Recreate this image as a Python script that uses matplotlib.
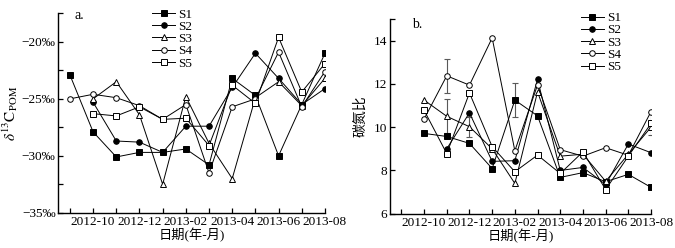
import matplotlib
matplotlib.use("Agg")
import matplotlib.pyplot as plt
import numpy as np

plt.rcParams['font.family'] = ['Liberation Serif', 'Noto Sans CJK SC']
plt.rcParams['mathtext.fontset'] = 'stix'
plt.rcParams['axes.unicode_minus'] = True

nan = np.nan
months = ['2012-09', '2012-10', '2012-11', '2012-12', '2013-01', '2013-02',
          '2013-03', '2013-04', '2013-05', '2013-06', '2013-07', '2013-08']
series = ['S1', 'S2', 'S3', 'S4', 'S5']

# panel a: delta13C of POM (permil)
d13c_s1 = [-22.9, -27.9, -30.1, -29.7, -29.7, -29.4, -30.8, -23.2, -24.7, -30.0, -25.5, -21.0]
d13c_s2 = [nan, -25.3, -28.7, -28.8, -29.7, -27.4, -27.4, -24.0, -21.0, -23.2, -25.5, -24.1]
d13c_s3 = [nan, -25.0, -23.5, -26.4, -32.5, -24.8, -28.9, -32.0, -24.9, -23.5, -25.6, -23.2]
d13c_s4 = [-25.0, -24.6, -24.9, -25.6, -26.8, -25.5, -31.5, -25.7, -25.0, -20.9, -25.7, -22.6]
d13c_s5 = [nan, -26.3, -26.5, -25.7, -26.8, -26.7, -29.1, -23.8, -25.4, -19.6, -24.4, -21.9]

# panel b: C/N ratio
cn_s1 = [nan, 9.71, 9.57, 9.25, 8.09, 11.25, 10.52, 7.68, 7.90, 7.48, 7.82, 7.22]
cn_s2 = [nan, nan, 9.00, 10.66, 8.42, 8.45, 12.20, 8.00, 8.14, 7.35, 9.22, 8.82]
cn_s3 = [nan, 11.25, 10.50, 10.02, 9.00, 7.40, 11.63, 8.66, 8.75, 7.50, 8.75, 10.00]
cn_s4 = [nan, 10.37, 12.37, 11.94, 14.12, 8.91, 11.95, 8.96, 8.66, 9.05, 8.70, 10.72]
cn_s5 = [nan, 10.78, 8.78, 11.58, 9.10, 7.94, 8.71, 7.86, 8.86, 7.12, 8.66, 10.17]

# error bars (only where drawn)
cn_err_s1 = [nan, nan, nan, nan, nan, 0.80, nan, nan, nan, nan, nan, nan]
cn_err_s3 = [nan, nan, 0.78, 0.46, nan, nan, nan, nan, nan, nan, nan, nan]
cn_err_s4 = [nan, nan, 0.78, nan, nan, nan, nan, nan, nan, nan, nan, nan]
cn_err_s5 = [nan, nan, nan, nan, nan, nan, nan, nan, nan, nan, nan, 0.55]

styles = {
    'S1': dict(marker='s', mfc='black'),
    'S2': dict(marker='o', mfc='black'),
    'S3': dict(marker='^', mfc='white'),
    'S4': dict(marker='o', mfc='white'),
    'S5': dict(marker='s', mfc='white'),
}

x = np.arange(len(months))
tick_labels = [m if i % 2 == 1 else '' for i, m in enumerate(months)]

fig = plt.figure(figsize=(6.75, 2.48), dpi=100)
ax1 = fig.add_axes([0.0864, 0.142, 0.395, 0.804])
ax2 = fig.add_axes([0.5778, 0.138, 0.3867, 0.786])


def style_axis(ax):
    for s in ['top', 'right']:
        ax.spines[s].set_visible(False)
    for s in ['left', 'bottom']:
        ax.spines[s].set_linewidth(1.0)
    ax.set_xlim(-0.5, 11)
    ax.set_xticks(x)
    ax.set_xticklabels(tick_labels)
    ax.tick_params(direction='in', length=3.5, width=0.9, labelsize=9.5, pad=2)
    ax.tick_params(which='minor', direction='in', length=3.5, width=0.9)
    ax.set_xlabel('日期(年-月)', fontsize=9.5, labelpad=0)


def add_legend(ax, x0, y0):
    ax.legend(loc='upper left', bbox_to_anchor=(x0, y0), frameon=False,
              fontsize=9.5, handlelength=1.8, handletextpad=0.2,
              labelspacing=0.0, borderpad=0, borderaxespad=0)


for name, vals in zip(series, [d13c_s1, d13c_s2, d13c_s3, d13c_s4, d13c_s5]):
    st = styles[name]
    ax1.plot(x, vals, color='black', lw=0.7, marker=st['marker'], mfc=st['mfc'],
             mec='black', mew=0.7, ms=4, label=name)
style_axis(ax1)
ax1.set_ylim(-35, -17.5)
ax1.set_yticks([-35, -30, -25, -20])
ax1.set_yticklabels(['\u221235\u2030', '\u221230\u2030', '\u221225\u2030', '\u221220\u2030'])
ax1.set_yticks([-32.5, -27.5, -22.5, -17.5], minor=True)
ax1.set_ylabel(r'$\delta^{13}\mathrm{C}_{\mathrm{POM}}$', fontsize=11, labelpad=1)
ax1.text(0.06, 0.99, 'a.', transform=ax1.transAxes, fontsize=10, va='center')
add_legend(ax1, 0.35, 1.025)

cn_vals = [cn_s1, cn_s2, cn_s3, cn_s4, cn_s5]
cn_errs = [cn_err_s1, None, cn_err_s3, cn_err_s4, cn_err_s5]
for name, vals, err in zip(series, cn_vals, cn_errs):
    st = styles[name]
    if err is not None:
        ax2.errorbar(x, vals, yerr=err, fmt='none', ecolor='0.35', elinewidth=0.8,
                     capsize=2.5, capthick=0.8, zorder=1)
    ax2.plot(x, vals, color='black', lw=0.7, marker=st['marker'], mfc=st['mfc'],
             mec='black', mew=0.7, ms=4, label=name, zorder=2)
style_axis(ax2)
ax2.set_ylim(6, 15)
ax2.set_yticks([6, 8, 10, 12, 14])
ax2.set_yticks([15], minor=True)
ax2.set_ylabel('碳氮比', fontsize=10, labelpad=5)
ax2.text(0.083, 0.97, 'b.', transform=ax2.transAxes, fontsize=10, va='center')
add_legend(ax2, 0.73, 1.035)

fig.savefig('out.png', dpi=100)
